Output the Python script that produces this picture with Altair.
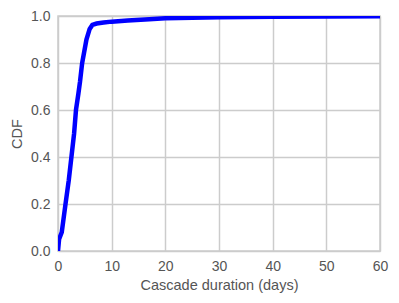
import altair as alt
import pandas as pd

days = [0, 0.2, 0.7, 1.4, 2.0, 2.5, 3.0, 3.35, 3.8, 4.1, 4.5, 5.3, 5.9, 6.4, 7.2, 8.5, 10.0, 13.0, 17.0, 20.0, 25.0, 30.0, 40.0, 50.0, 60.0]
cdf = [0.0, 0.05, 0.08, 0.2, 0.3, 0.4, 0.5, 0.6, 0.67, 0.72, 0.8, 0.9, 0.945, 0.962, 0.968, 0.972, 0.976, 0.981, 0.986, 0.99, 0.993, 0.995, 0.997, 0.998, 0.999]

df = pd.DataFrame({"days": days, "cdf": cdf})

chart = alt.Chart(df).mark_line(color="#0000ff", strokeWidth=4.5, clip=True).encode(
    x=alt.X("days:Q", scale=alt.Scale(domain=[0, 60], nice=False),
            axis=alt.Axis(title="Cascade duration (days)", values=[0, 10, 20, 30, 40, 50, 60])),
    y=alt.Y("cdf:Q", scale=alt.Scale(domain=[0, 1], nice=False),
            axis=alt.Axis(title="CDF", values=[0, 0.2, 0.4, 0.6, 0.8, 1.0], format=".1f")),
).properties(
    width=322, height=235,
    autosize=alt.AutoSizeParams(type="none"),
    padding={"left": 50, "top": 8, "right": 10, "bottom": 50},
).configure_view(
    stroke="#cccccc", strokeWidth=1.5
).configure_axis(
    grid=True, gridColor="#cccccc", gridWidth=1.5,
    domain=False, ticks=False, labelFlush=False,
    labelFont="Liberation Sans", titleFont="Liberation Sans",
    labelFontSize=14, titleFontSize=14.5,
    labelColor="#555555", titleColor="#555555",
    titleFontWeight="normal", labelPadding=8,
).configure_axisY(titlePadding=6).configure_axisX(titlePadding=5)

chart.save("out.html", embed_options={"renderer": "svg", "actions": False})
